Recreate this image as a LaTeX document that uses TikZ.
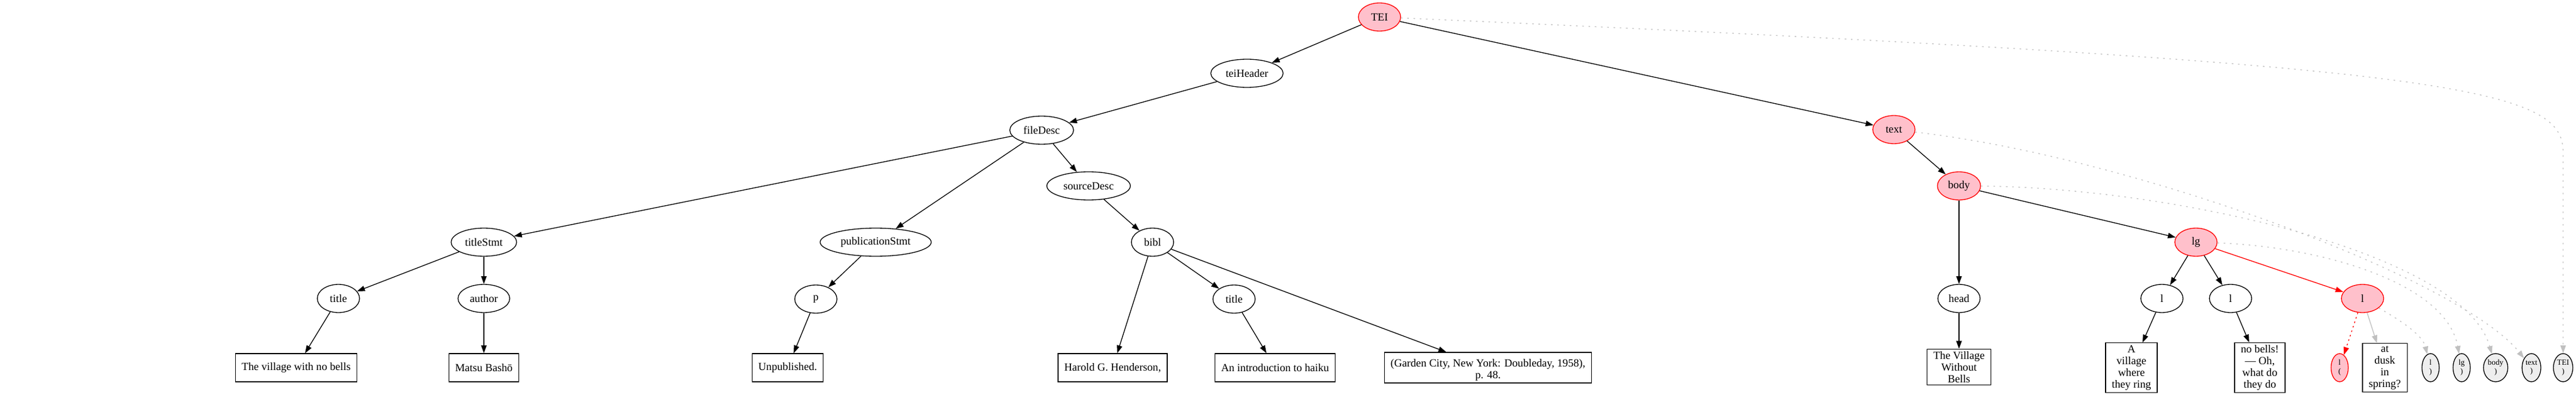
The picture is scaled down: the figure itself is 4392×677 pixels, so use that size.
\documentclass[tikz,border=0pt]{standalone}
\usepackage{fontspec}
\setmainfont{Liberation Serif}
\usetikzlibrary{shapes.geometric,arrows.meta}

\begin{document}
\begin{tikzpicture}[x=0.75pt, y=-0.75pt,
    elem/.style={ellipse, draw, line width=1pt, minimum width=54pt, minimum height=36pt,
        inner xsep=5.5pt, inner ysep=2pt, font=\fontsize{14}{15}\selectfont},
    elemactive/.style={elem, draw=red, fill=activefill},
    leaf/.style={rectangle, draw, line width=1pt, minimum width=54pt, minimum height=36pt,
        inner xsep=8pt, inner ysep=3pt, align=center, font=\fontsize{14}{15}\selectfont},
    closetag/.style={ellipse, draw, line width=1pt, fill=closefill, minimum width=22pt,
        minimum height=36pt, inner sep=1pt, align=center, font=\fontsize{10}{11}\selectfont},
    opentag/.style={closetag, draw=red, fill=activefill},
    child/.style={-{Triangle[length=10pt,width=7pt]}, line width=1pt},
    visit/.style={child, draw=red},
    trace/.style={child, draw=tracegray, dash pattern=on 2pt off 6pt}]
            \definecolor{activefill}{RGB}{255,192,203}
            \definecolor{closefill}{RGB}{238,238,238}
            \definecolor{tracegray}{RGB}{192,192,192}
            \useasboundingbox (0,0) rectangle (4392,677);

            % Radice e header
            \node[elemactive] (TEI) at (2352,29) {TEI};
            \node[elem] (teiHeader) at (2126,125) {teiHeader};
            \node[elem] (fileDesc) at (1776,222) {fileDesc};
            \node[elem] (sourceDesc) at (1856,317) {sourceDesc};
            \node[elem] (titleStmt) at (825,413) {titleStmt};
            \node[elem] (publicationStmt) at (1493,413) {publicationStmt};
            \node[elem] (bibl) at (1965,413) {bibl};
            \node[elem] (title) at (577,509) {title};
            \node[elem] (author) at (825,509) {author};
            \node[elem] (p) at (1391,510) {p};
            \node[elem] (biblTitle) at (2104,510) {title};

            % Testi dell'header
            \node[leaf] (titleText) at (505,627) {The village with no bells};
            \node[leaf] (authorText) at (825,627) {Matsu Bashō};
            \node[leaf] (pText) at (1343,627) {Unpublished.};
            \node[leaf] (biblText) at (1897,627) {Harold G. Henderson,};
            \node[leaf] (biblTitleText) at (2174,627) {An introduction to haiku};
            \node[leaf] (imprintText) at (2537,627) {\mbox{}\\ (Garden City, New York: Doubleday, 1958),\\ p. 48.};

            % Corpo del testo
            \node[elemactive] (text) at (3229,221) {text};
            \node[elemactive] (body) at (3340,317) {body};
            \node[elemactive] (lg) at (3744,413) {lg};
            \node[elem] (head) at (3340,509) {head};
            \node[elem] (lOne) at (3686,509) {l};
            \node[elem] (lTwo) at (3803,509) {l};
            \node[elemactive] (lThree) at (4028,509) {l};

            % Versi
            \node[leaf] (headText) at (3340,626) {The Village\\ Without\\ Bells};
            \node[leaf] (lOneText) at (3634,627) {A\\ village\\ where\\ they ring};
            \node[leaf] (lTwoText) at (3853,627) {no bells!\\ — Oh,\\ what do\\ they do};
            \node[leaf] (lThreeText) at (4066,627) {at\\ dusk\\ in\\ spring?};

            % Tag di apertura e chiusura
            \node[opentag] (lOpen) at (3989,627) {l\\ (};
            \node[closetag] (lClose) at (4144,627) {l\\ )};
            \node[closetag] (lgClose) at (4197,627) {lg\\ )};
            \node[closetag] (bodyClose) at (4255,627) {body\\ )};
            \node[closetag] (textClose) at (4316,627) {text\\ )};
            \node[closetag] (TEIClose) at (4370,627) {TEI\\ )};
            \coordinate (TEIBend) at (4370,260);

            % Archi dell'albero
            \draw[child] (TEI) -- (teiHeader);
            \draw[child] (TEI) -- (text);
            \draw[child] (teiHeader) -- (fileDesc);
            \draw[child] (fileDesc) -- (titleStmt);
            \draw[child] (fileDesc) -- (publicationStmt);
            \draw[child] (fileDesc) -- (sourceDesc);
            \draw[child] (titleStmt) -- (title);
            \draw[child] (titleStmt) -- (author);
            \draw[child] (title) -- (titleText);
            \draw[child] (author) -- (authorText);
            \draw[child] (publicationStmt) -- (p);
            \draw[child] (p) -- (pText);
            \draw[child] (sourceDesc) -- (bibl);
            \draw[child] (bibl) -- (biblText);
            \draw[child] (bibl) -- (biblTitle);
            \draw[child] (bibl) -- (imprintText);
            \draw[child] (biblTitle) -- (biblTitleText);
            \draw[child] (text) -- (body);
            \draw[child] (body) -- (head);
            \draw[child] (body) -- (lg);
            \draw[child] (head) -- (headText);
            \draw[child] (lg) -- (lOne);
            \draw[child] (lg) -- (lTwo);
            \draw[child] (lOne) -- (lOneText);
            \draw[child] (lTwo) -- (lTwoText);

            % Percorso corrente
            \draw[visit] (lg) -- (lThree);
            \draw[visit, dash pattern=on 2pt off 4pt] (lThree) -- (lOpen);
            \draw[child, draw=tracegray] (lThree) -- (lThreeText);

            % Chiusure in sospeso
            \draw[trace] (lThree) .. controls (4090,545) and (4130,570) .. (lClose);
            \draw[trace] (lg) .. controls (3950,420) and (4170,480) .. (lgClose);
            \draw[trace] (body) .. controls (3700,320) and (4200,430) .. (bodyClose);
            \draw[trace] (text) .. controls (3650,270) and (4200,480) .. (textClose);
            \draw[trace] (TEI) .. controls (4200,110) and (4370,150) .. (TEIBend) -- (TEIClose);
        \end{tikzpicture}
\end{document}
